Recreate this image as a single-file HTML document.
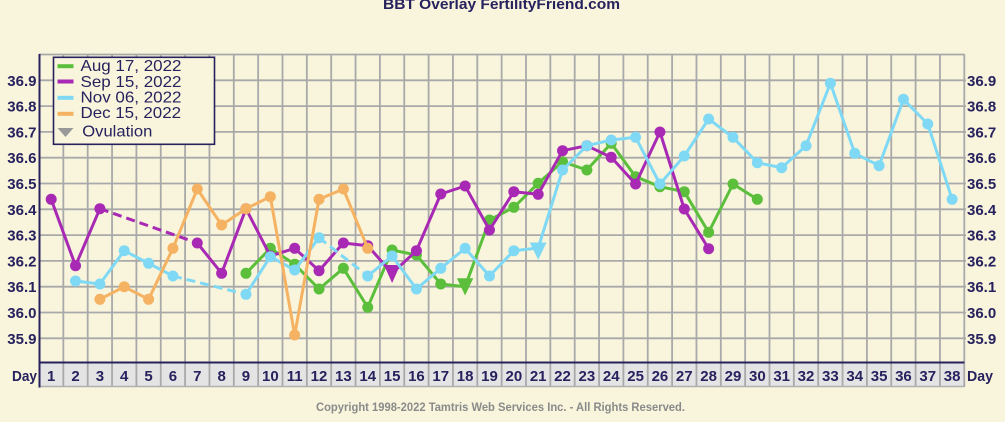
<!DOCTYPE html>
<html><head><meta charset="utf-8"><style>
html,body{margin:0;padding:0;background:#f8f5dc;}
svg{display:block;}
text{font-family:"Liberation Sans",sans-serif;}
</style></head><body>
<svg width="1005" height="422" viewBox="0 0 1005 422" xmlns="http://www.w3.org/2000/svg">
<rect x="0" y="0" width="1005" height="422" fill="#f8f5dc"/>
<text x="383" y="9" font-size="15" font-weight="bold" fill="#27215e" textLength="237" lengthAdjust="spacingAndGlyphs">BBT Overlay FertilityFriend.com</text>

<!-- day row -->
<rect x="39" y="362" width="925" height="25" fill="#e4e4e4"/>
<!-- horizontal grid -->
<g stroke="#a9a9a9" stroke-width="1.8">
<line x1="39" y1="54.5" x2="964" y2="54.5"/>
<line x1="39" y1="80.3" x2="966" y2="80.3"/>
<line x1="39" y1="106.1" x2="966" y2="106.1"/>
<line x1="39" y1="131.9" x2="966" y2="131.9"/>
<line x1="39" y1="157.7" x2="966" y2="157.7"/>
<line x1="39" y1="183.5" x2="966" y2="183.5"/>
<line x1="39" y1="209.3" x2="966" y2="209.3"/>
<line x1="39" y1="235.1" x2="966" y2="235.1"/>
<line x1="39" y1="260.9" x2="966" y2="260.9"/>
<line x1="39" y1="286.7" x2="966" y2="286.7"/>
<line x1="39" y1="312.5" x2="966" y2="312.5"/>
<line x1="39" y1="338.3" x2="966" y2="338.3"/>
</g>
<!-- vertical grid -->
<g stroke="#a9a9a9" stroke-width="1.8">
<line x1="63.35" y1="54" x2="63.35" y2="387"/><line x1="87.7" y1="54" x2="87.7" y2="387"/><line x1="112.05" y1="54" x2="112.05" y2="387"/><line x1="136.4" y1="54" x2="136.4" y2="387"/><line x1="160.75" y1="54" x2="160.75" y2="387"/><line x1="185.1" y1="54" x2="185.1" y2="387"/><line x1="209.45" y1="54" x2="209.45" y2="387"/><line x1="233.8" y1="54" x2="233.8" y2="387"/><line x1="258.15" y1="54" x2="258.15" y2="387"/><line x1="282.5" y1="54" x2="282.5" y2="387"/><line x1="306.85" y1="54" x2="306.85" y2="387"/><line x1="331.2" y1="54" x2="331.2" y2="387"/><line x1="355.55" y1="54" x2="355.55" y2="387"/><line x1="379.9" y1="54" x2="379.9" y2="387"/><line x1="404.25" y1="54" x2="404.25" y2="387"/><line x1="428.6" y1="54" x2="428.6" y2="387"/><line x1="452.95" y1="54" x2="452.95" y2="387"/><line x1="477.3" y1="54" x2="477.3" y2="387"/><line x1="501.65" y1="54" x2="501.65" y2="387"/><line x1="526" y1="54" x2="526" y2="387"/><line x1="550.35" y1="54" x2="550.35" y2="387"/><line x1="574.7" y1="54" x2="574.7" y2="387"/><line x1="599.05" y1="54" x2="599.05" y2="387"/><line x1="623.4" y1="54" x2="623.4" y2="387"/><line x1="647.75" y1="54" x2="647.75" y2="387"/><line x1="672.1" y1="54" x2="672.1" y2="387"/><line x1="696.45" y1="54" x2="696.45" y2="387"/><line x1="720.8" y1="54" x2="720.8" y2="387"/><line x1="745.15" y1="54" x2="745.15" y2="387"/><line x1="769.5" y1="54" x2="769.5" y2="387"/><line x1="793.85" y1="54" x2="793.85" y2="387"/><line x1="818.2" y1="54" x2="818.2" y2="387"/><line x1="842.55" y1="54" x2="842.55" y2="387"/><line x1="866.9" y1="54" x2="866.9" y2="387"/><line x1="891.25" y1="54" x2="891.25" y2="387"/><line x1="915.6" y1="54" x2="915.6" y2="387"/><line x1="939.95" y1="54" x2="939.95" y2="387"/><line x1="964.3" y1="54" x2="964.3" y2="387"/>
</g>
<line x1="39" y1="386.5" x2="964.3" y2="386.5" stroke="#b0b0b0" stroke-width="1.5"/>
<line x1="39" y1="362.5" x2="964.3" y2="362.5" stroke="#27215e" stroke-width="2"/>
<line x1="39.5" y1="54" x2="39.5" y2="387.5" stroke="#27215e" stroke-width="2"/>

<!-- y labels -->
<g font-size="15" font-weight="bold" fill="#27215e" text-anchor="end">
<text x="36.5" y="85.8">36.9</text><text x="36.5" y="111.6">36.8</text><text x="36.5" y="137.4">36.7</text><text x="36.5" y="163.2">36.6</text><text x="36.5" y="189">36.5</text><text x="36.5" y="214.8">36.4</text><text x="36.5" y="240.6">36.3</text><text x="36.5" y="266.4">36.2</text><text x="36.5" y="292.2">36.1</text><text x="36.5" y="318">36.0</text><text x="36.5" y="343.8">35.9</text>
</g>
<g font-size="15" font-weight="bold" fill="#27215e">
<text x="967" y="85.8">36.9</text><text x="967" y="111.6">36.8</text><text x="967" y="137.4">36.7</text><text x="967" y="163.2">36.6</text><text x="967" y="189">36.5</text><text x="967" y="214.8">36.4</text><text x="967" y="240.6">36.3</text><text x="967" y="266.4">36.2</text><text x="967" y="292.2">36.1</text><text x="967" y="318">36.0</text><text x="967" y="343.8">35.9</text>
</g>
<!-- day labels -->
<g font-size="15" font-weight="bold" fill="#27215e">
<text x="12" y="381" textLength="25" lengthAdjust="spacingAndGlyphs">Day</text>
<text x="967" y="381" textLength="26" lengthAdjust="spacingAndGlyphs">Day</text>
</g>
<g font-size="15" font-weight="bold" fill="#27215e" text-anchor="middle">
<text x="51.18" y="381">1</text><text x="75.53" y="381">2</text><text x="99.88" y="381">3</text><text x="124.23" y="381">4</text><text x="148.58" y="381">5</text><text x="172.93" y="381">6</text><text x="197.28" y="381">7</text><text x="221.63" y="381">8</text><text x="245.98" y="381">9</text><text x="270.33" y="381">10</text><text x="294.68" y="381">11</text><text x="319.03" y="381">12</text><text x="343.38" y="381">13</text><text x="367.73" y="381">14</text><text x="392.08" y="381">15</text><text x="416.43" y="381">16</text><text x="440.78" y="381">17</text><text x="465.13" y="381">18</text><text x="489.48" y="381">19</text><text x="513.83" y="381">20</text><text x="538.18" y="381">21</text><text x="562.53" y="381">22</text><text x="586.88" y="381">23</text><text x="611.23" y="381">24</text><text x="635.58" y="381">25</text><text x="659.93" y="381">26</text><text x="684.28" y="381">27</text><text x="708.63" y="381">28</text><text x="732.98" y="381">29</text><text x="757.33" y="381">30</text><text x="781.68" y="381">31</text><text x="806.03" y="381">32</text><text x="830.38" y="381">33</text><text x="854.73" y="381">34</text><text x="879.08" y="381">35</text><text x="903.43" y="381">36</text><text x="927.78" y="381">37</text><text x="952.13" y="381">38</text>
</g>

<!-- GREEN -->
<g stroke="#5cbf3c" fill="#5cbf3c">
<polyline fill="none" stroke-width="3" stroke-linejoin="round" points="245.98,273.3 270.33,248.3 294.68,264.3 319.03,289 343.38,268.3 367.73,307.3 392.08,250 416.43,255 440.78,284 465.13,286.7 489.48,220 513.83,207.3 538.18,183.3 562.53,161.7 586.88,170 611.23,143.3 635.58,176.7 659.93,186.7 684.28,191.7 708.63,232.3 732.98,184 757.33,199.3"/>
<g stroke="none">
<circle cx="245.98" cy="273.3" r="5.5"/><circle cx="270.33" cy="248.3" r="5.5"/><circle cx="294.68" cy="264.3" r="5.5"/><circle cx="319.03" cy="289" r="5.5"/><circle cx="343.38" cy="268.3" r="5.5"/><circle cx="367.73" cy="307.3" r="5.5"/><circle cx="392.08" cy="250" r="5.5"/><circle cx="416.43" cy="255" r="5.5"/><circle cx="440.78" cy="284" r="5.5"/><polygon points="456.9,278.3 473.3,278.3 465.1,295.5"/><circle cx="489.48" cy="220" r="5.5"/><circle cx="513.83" cy="207.3" r="5.5"/><circle cx="538.18" cy="183.3" r="5.5"/><circle cx="562.53" cy="161.7" r="5.5"/><circle cx="586.88" cy="170" r="5.5"/><circle cx="611.23" cy="143.3" r="5.5"/><circle cx="635.58" cy="176.7" r="5.5"/><circle cx="659.93" cy="186.7" r="5.5"/><circle cx="684.28" cy="191.7" r="5.5"/><circle cx="708.63" cy="232.3" r="5.5"/><circle cx="732.98" cy="184" r="5.5"/><circle cx="757.33" cy="199.3" r="5.5"/>
</g></g>

<!-- PURPLE -->
<g stroke="#a829b3" fill="#a829b3">
<polyline fill="none" stroke-width="3" stroke-linejoin="round" points="51.18,199.3 75.53,265.7 99.88,208.7"/>
<line x1="99.88" y1="208.7" x2="197.28" y2="243" stroke-width="3" stroke-dasharray="9,5"/>
<polyline fill="none" stroke-width="3" stroke-linejoin="round" points="197.28,243 221.63,273.3 245.98,208.7 270.33,256 294.68,248.3 319.03,270.7 343.38,243 367.73,245.7 392.08,273.3 416.43,250.7 440.78,194 465.13,186 489.48,230 513.83,191.7 538.18,194.3 562.53,150.7 586.88,145.7 611.23,157.3 635.58,184 659.93,132 684.28,209 708.63,248.7"/>
<g stroke="none">
<circle cx="51.18" cy="199.3" r="5.5"/><circle cx="75.53" cy="265.7" r="5.5"/><circle cx="99.88" cy="208.7" r="5.5"/><circle cx="197.28" cy="243" r="5.5"/><circle cx="221.63" cy="273.3" r="5.5"/><circle cx="245.98" cy="208.7" r="5.5"/><circle cx="270.33" cy="256" r="5.5"/><circle cx="294.68" cy="248.3" r="5.5"/><circle cx="319.03" cy="270.7" r="5.5"/><circle cx="343.38" cy="243" r="5.5"/><circle cx="367.73" cy="245.7" r="5.5"/><polygon points="384,265 400.2,265 392.1,283"/><circle cx="416.43" cy="250.7" r="5.5"/><circle cx="440.78" cy="194" r="5.5"/><circle cx="465.13" cy="186" r="5.5"/><circle cx="489.48" cy="230" r="5.5"/><circle cx="513.83" cy="191.7" r="5.5"/><circle cx="538.18" cy="194.3" r="5.5"/><circle cx="562.53" cy="150.7" r="5.5"/><circle cx="586.88" cy="145.7" r="5.5"/><circle cx="611.23" cy="157.3" r="5.5"/><circle cx="635.58" cy="184" r="5.5"/><circle cx="659.93" cy="132" r="5.5"/><circle cx="684.28" cy="209" r="5.5"/><circle cx="708.63" cy="248.7" r="5.5"/>
</g></g>

<!-- BLUE -->
<g stroke="#7fd9f5" fill="#7fd9f5">
<polyline fill="none" stroke-width="3" stroke-linejoin="round" points="75.53,281 99.88,284 124.23,250.7 148.58,263.3 172.93,276"/>
<line x1="172.93" y1="276" x2="245.98" y2="294.3" stroke-width="3" stroke-dasharray="9,5"/>
<polyline fill="none" stroke-width="3" stroke-linejoin="round" points="245.98,294.3 270.33,256.7 294.68,270 319.03,237.7"/>
<line x1="319.03" y1="237.7" x2="367.73" y2="276" stroke-width="3" stroke-dasharray="9,5"/>
<polyline fill="none" stroke-width="3" stroke-linejoin="round" points="367.73,276 392.08,256 416.43,289 440.78,268.3 465.13,248.3 489.48,276 513.83,250.7 538.18,248 562.53,170 586.88,145.7 611.23,140 635.58,137.3 659.93,184 684.28,156 708.63,119 732.98,137.3 757.33,162.7 781.68,167.7 806.03,145.7 830.38,83.3 854.73,153.3 879.08,165.7 903.43,99.3 927.78,124 952.13,199.3"/>
<g stroke="none">
<circle cx="75.53" cy="281" r="5.5"/><circle cx="99.88" cy="284" r="5.5"/><circle cx="124.23" cy="250.7" r="5.5"/><circle cx="148.58" cy="263.3" r="5.5"/><circle cx="172.93" cy="276" r="5.5"/><circle cx="245.98" cy="294.3" r="5.5"/><circle cx="270.33" cy="256.7" r="5.5"/><circle cx="294.68" cy="270" r="5.5"/><circle cx="319.03" cy="237.7" r="5.5"/><circle cx="367.73" cy="276" r="5.5"/><circle cx="392.08" cy="256" r="5.5"/><circle cx="416.43" cy="289" r="5.5"/><circle cx="440.78" cy="268.3" r="5.5"/><circle cx="465.13" cy="248.3" r="5.5"/><circle cx="489.48" cy="276" r="5.5"/><circle cx="513.83" cy="250.7" r="5.5"/><polygon points="529.8,242.5 546.5,242.5 538.2,259.8"/><circle cx="562.53" cy="170" r="5.5"/><circle cx="586.88" cy="145.7" r="5.5"/><circle cx="611.23" cy="140" r="5.5"/><circle cx="635.58" cy="137.3" r="5.5"/><circle cx="659.93" cy="184" r="5.5"/><circle cx="684.28" cy="156" r="5.5"/><circle cx="708.63" cy="119" r="5.5"/><circle cx="732.98" cy="137.3" r="5.5"/><circle cx="757.33" cy="162.7" r="5.5"/><circle cx="781.68" cy="167.7" r="5.5"/><circle cx="806.03" cy="145.7" r="5.5"/><circle cx="830.38" cy="83.3" r="5.5"/><circle cx="854.73" cy="153.3" r="5.5"/><circle cx="879.08" cy="165.7" r="5.5"/><circle cx="903.43" cy="99.3" r="5.5"/><circle cx="927.78" cy="124" r="5.5"/><circle cx="952.13" cy="199.3" r="5.5"/>
</g></g>

<!-- ORANGE -->
<g stroke="#f5b262" fill="#f5b262">
<polyline fill="none" stroke-width="3" stroke-linejoin="round" points="99.88,299.3 124.23,286.7 148.58,299.3 172.93,248.3 197.28,189 221.63,225 245.98,208.7 270.33,196.7 294.68,335 319.03,199.3 343.38,189 367.73,248.3"/>
<g stroke="none">
<circle cx="99.88" cy="299.3" r="5.5"/><circle cx="124.23" cy="286.7" r="5.5"/><circle cx="148.58" cy="299.3" r="5.5"/><circle cx="172.93" cy="248.3" r="5.5"/><circle cx="197.28" cy="189" r="5.5"/><circle cx="221.63" cy="225" r="5.5"/><circle cx="245.98" cy="208.7" r="5.5"/><circle cx="270.33" cy="196.7" r="5.5"/><circle cx="294.68" cy="335" r="5.5"/><circle cx="319.03" cy="199.3" r="5.5"/><circle cx="343.38" cy="189" r="5.5"/><circle cx="367.73" cy="248.3" r="5.5"/>
</g></g>

<!-- legend -->
<rect x="53.5" y="57.3" width="161" height="87" fill="#f8f5dc" stroke="#27215e" stroke-width="1.6"/>
<rect x="57.5" y="64.2" width="16" height="4" fill="#5cbf3c"/>
<rect x="57.5" y="79.5" width="16" height="4" fill="#a829b3"/>
<rect x="57.5" y="95.8" width="16" height="4" fill="#7fd9f5"/>
<rect x="57.5" y="111.8" width="16" height="4" fill="#f5b262"/>
<polygon points="57.5,128 73.5,128 65.5,137" fill="#999999"/>
<g font-size="16" fill="#27215e">
<text x="80.5" y="71.2" textLength="101" lengthAdjust="spacingAndGlyphs">Aug 17, 2022</text>
<text x="80.5" y="86.8" textLength="101" lengthAdjust="spacingAndGlyphs">Sep 15, 2022</text>
<text x="80.5" y="102.6" textLength="101" lengthAdjust="spacingAndGlyphs">Nov 06, 2022</text>
<text x="80.5" y="118.2" textLength="100.5" lengthAdjust="spacingAndGlyphs">Dec 15, 2022</text>
<text x="82.3" y="136.6" textLength="70" lengthAdjust="spacingAndGlyphs">Ovulation</text>
</g>

<text x="316" y="411" font-size="12" font-weight="bold" fill="#8a8a8a" textLength="369" lengthAdjust="spacingAndGlyphs">Copyright 1998-2022 Tamtris Web Services Inc. - All Rights Reserved.</text>
</svg>
</body></html>
